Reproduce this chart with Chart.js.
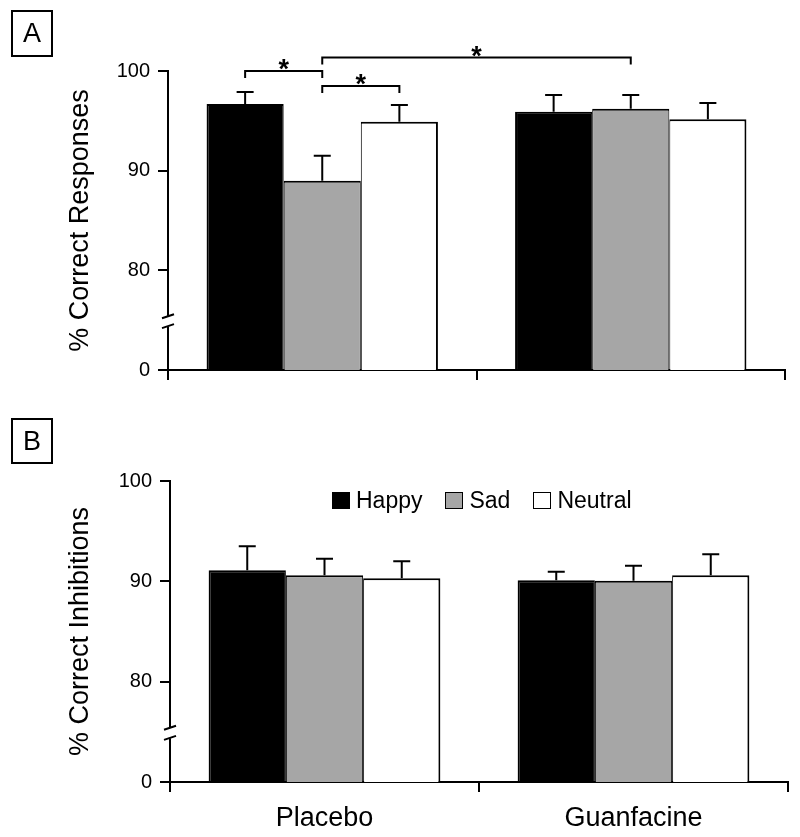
<!DOCTYPE html>
<html>
<head>
<meta charset="utf-8">
<script src="https://cdn.jsdelivr.net/npm/chart.js@4.4.1/dist/chart.umd.min.js"></script>
<style>
  body { margin: 0; background: #fff; font-family: 'Liberation Sans', Arial, sans-serif; }
  #wrap { position: relative; width: 800px; height: 837px; }
  canvas { position: absolute; left: 0; }
  .tag { position: absolute; left: 11px; width: 38px; border: 2px solid #000; font-size: 27px; text-align: center; }
  #legend { position: absolute; left: 332px; top: 487px; display: flex; align-items: center; font-size: 23px; line-height: 26px; }
  #legend .item { display: flex; align-items: center; margin-right: 23px; }
  #legend .box { width: 16px; height: 15px; border: 1.5px solid #000; margin-right: 6px; }
</style>
</head>
<body>
<div id="wrap">
  <canvas id="chartA" width="800" height="400" style="top:0"></canvas>
  <canvas id="chartB" width="800" height="437" style="top:400px"></canvas>
  <div class="tag" style="top:10px;height:43px;line-height:43px">A</div>
  <div class="tag" style="top:418px;height:42px;line-height:42px">B</div>
  <div id="legend"></div>
</div>
<script>
const groups = ['Placebo', 'Guanfacine'];
const emotions = ['Happy', 'Sad', 'Neutral'];

// A: % correct responses, bar = mean, err = upper error bar
const respHappy = [96.7, 95.9];
const respSad = [89.0, 96.2];
const respNeutral = [94.9, 95.15];
const respHappyErr = [1.2, 1.7];
const respSadErr = [2.5, 1.4];
const respNeutralErr = [1.7, 1.65];

// B: % correct inhibitions
const inhHappy = [91.1, 90.1];
const inhSad = [90.6, 90.05];
const inhNeutral = [90.3, 90.6];
const inhHappyErr = [2.4, 0.85];
const inhSadErr = [1.65, 1.5];
const inhNeutralErr = [1.7, 2.1];

// y axis is broken: the bottom tick (70) stands for 0
const yTickValues = [70, 80, 90, 100];
const yTickLabels = ['0', '80', '90', '100'];

// significance brackets in A: [emotion, group] pairs
const sigPairs = [
  [[0, 0], [1, 0]],
  [[1, 0], [2, 0]],
  [[1, 0], [1, 1]]
];

const barColors = ['#000000', '#a6a6a6', '#ffffff'];
const borders = [
  {top: 2, left: 2, right: 1, bottom: 0},
  {top: 2, left: 1, right: 1, bottom: 0},
  {top: 2, left: 1, right: 2, bottom: 0}
];

Chart.defaults.font.family = "'Liberation Sans', Arial, sans-serif";
Chart.defaults.color = '#000';

const errorBars = {
  id: 'errorBars',
  afterDatasetsDraw(chart) {
    const {ctx} = chart;
    const y = chart.scales.y;
    ctx.save();
    ctx.strokeStyle = '#000';
    ctx.lineWidth = 2;
    chart.data.datasets.forEach((ds, i) => {
      chart.getDatasetMeta(i).data.forEach((bar, j) => {
        const top = y.getPixelForValue(ds.data[j] + ds.errors[j]);
        ctx.beginPath();
        ctx.moveTo(bar.x, bar.y);
        ctx.lineTo(bar.x, top);
        ctx.moveTo(bar.x - 8.5, top);
        ctx.lineTo(bar.x + 8.5, top);
        ctx.stroke();
      });
    });
    ctx.restore();
  }
};

const brokenAxis = {
  id: 'brokenAxis',
  afterDraw(chart, args, opts) {
    const {ctx, chartArea} = chart;
    const y = chart.scales.y;
    const x = chartArea.left;
    const hi = y.getPixelForValue(opts.upper);
    const lo = y.getPixelForValue(opts.lower);
    ctx.save();
    ctx.strokeStyle = '#000';
    ctx.lineWidth = 2;
    ctx.beginPath();
    ctx.moveTo(x, chartArea.top - 1);
    ctx.lineTo(x, hi);
    ctx.moveTo(x, lo);
    ctx.lineTo(x, chartArea.bottom);
    [hi, lo].forEach(p => {
      ctx.moveTo(x - 6, p + 2);
      ctx.lineTo(x + 6, p - 2);
    });
    ctx.stroke();
    ctx.restore();
  }
};

const brackets = {
  id: 'brackets',
  afterDraw(chart, args, opts) {
    if (!opts.pairs) return;
    const {ctx} = chart;
    const y = chart.scales.y;
    ctx.save();
    ctx.strokeStyle = '#000';
    ctx.fillStyle = '#000';
    ctx.lineWidth = 2;
    ctx.font = "bold 27px 'Liberation Sans', Arial, sans-serif";
    ctx.textAlign = 'center';
    ctx.textBaseline = 'alphabetic';
    opts.pairs.forEach((pair, k) => {
      const a = chart.getDatasetMeta(pair[0][0]).data[pair[0][1]];
      const b = chart.getDatasetMeta(pair[1][0]).data[pair[1][1]];
      const yy = y.getPixelForValue(opts.levels[k]);
      ctx.beginPath();
      ctx.moveTo(a.x, yy + 7);
      ctx.lineTo(a.x, yy);
      ctx.lineTo(b.x, yy);
      ctx.lineTo(b.x, yy + 7);
      ctx.stroke();
      ctx.fillText('*', (a.x + b.x) / 2, yy + 7);
    });
    ctx.restore();
  }
};

function makeChart(id, series, errs, o) {
  const ctx = document.getElementById(id).getContext('2d');
  return new Chart(ctx, {
    type: 'bar',
    data: {
      labels: groups,
      datasets: emotions.map((name, i) => ({
        label: name,
        data: series[i],
        errors: errs[i],
        backgroundColor: barColors[i],
        borderColor: '#000',
        borderWidth: borders[i],
        borderSkipped: false,
        categoryPercentage: 0.75,
        barPercentage: 1.0
      }))
    },
    options: {
      responsive: false,
      animation: false,
      devicePixelRatio: 1,
      events: [],
      layout: { padding: o.padding },
      plugins: {
        legend: { display: false },
        tooltip: { enabled: false },
        brokenAxis: { upper: 75.4, lower: 74.4 },
        brackets: o.brackets || {}
      },
      scales: {
        x: {
          offset: true,
          grid: { offset: true, drawOnChartArea: false, tickLength: 10, color: '#000', lineWidth: 2 },
          border: { display: true, color: '#000', width: 2 },
          ticks: { display: o.showGroups, font: { size: 27 }, padding: 10, color: '#000' },
          afterFit: s => { s.height = o.xHeight; }
        },
        y: {
          min: 70,
          max: 100,
          afterBuildTicks: s => { s.ticks = yTickValues.map(v => ({value: v})); },
          ticks: {
            font: { size: 20 },
            padding: 8,
            color: '#000',
            callback: v => yTickLabels[yTickValues.indexOf(v)]
          },
          grid: { drawOnChartArea: false, tickLength: 10, color: '#000', lineWidth: 2 },
          border: { display: false },
          title: { display: true, text: o.title, font: { size: 27 }, padding: { top: 64, bottom: 0 }, color: '#000' },
          afterFit: s => { s.width = o.yWidth; }
        }
      }
    },
    plugins: [errorBars, brokenAxis, brackets]
  });
}

makeChart('chartA',
  [respHappy, respSad, respNeutral],
  [respHappyErr, respSadErr, respNeutralErr],
  {
    padding: {top: 71, right: 15, left: 0, bottom: 0},
    xHeight: 30, yWidth: 168, showGroups: false,
    title: '% Correct Responses',
    brackets: { pairs: sigPairs, levels: [100.0, 98.5, 101.35] }
  });

makeChart('chartB',
  [inhHappy, inhSad, inhNeutral],
  [inhHappyErr, inhSadErr, inhNeutralErr],
  {
    padding: {top: 81, right: 12, left: 0, bottom: 0},
    xHeight: 55, yWidth: 170, showGroups: true,
    title: '% Correct Inhibitions'
  });

const legend = document.getElementById('legend');
emotions.forEach((name, i) => {
  const item = document.createElement('div');
  item.className = 'item';
  const box = document.createElement('span');
  box.className = 'box';
  box.style.background = barColors[i];
  item.appendChild(box);
  item.appendChild(document.createTextNode(name));
  legend.appendChild(item);
});
</script>
</body>
</html>
